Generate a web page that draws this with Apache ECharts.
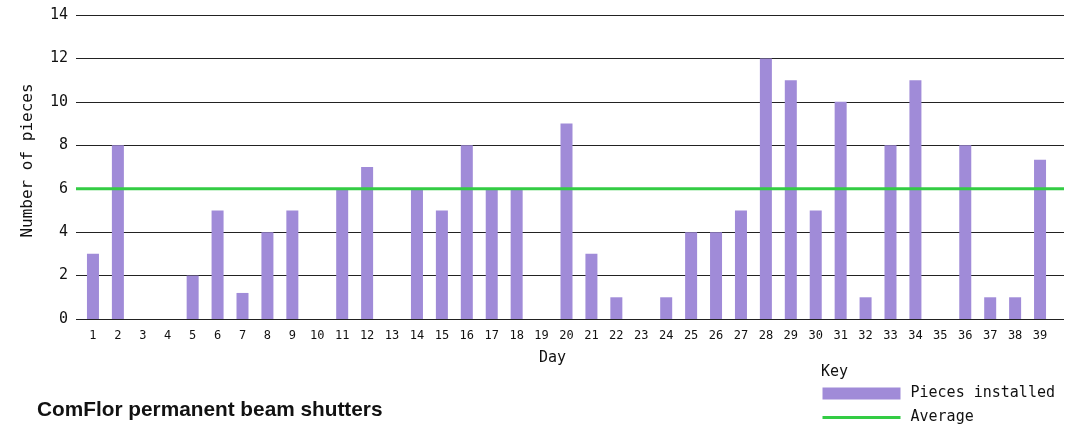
<!DOCTYPE html>
<html>
<head>
<meta charset="utf-8">
<script src="https://cdn.jsdelivr.net/npm/echarts@6/dist/echarts.min.js"></script>
<style>
  html, body { margin: 0; padding: 0; background: #fff; }
  #chart { width: 1082px; height: 425px; }
</style>
</head>
<body>
<div id="chart"></div>
<script>
// Daily installation counts for ComFlor permanent beam shutters
const days = ['1','2','3','4','5','6','7','8','9','10','11','12','13','14','15','16','17','18','19','20',
              '21','22','23','24','25','26','27','28','29','30','31','32','33','34','35','36','37','38','39'];
const piecesInstalled = [3, 8, 0, 0, 2, 5, 1.2, 4, 5, 0, 6, 7, 0, 6, 5, 8, 6, 6, 0, 9,
                         3, 1, 0, 1, 4, 4, 5, 12, 11, 5, 10, 1, 8, 11, 0, 8, 1, 1, 7.33];
const averagePieces = 6;
const yTicks = [0, 2, 4, 6, 8, 10, 12, 14];

const MONO = '"DejaVu Sans Mono", monospace';
const PURPLE = '#a08bd8';
const GREEN = '#33cc44';
const INK = '#111';

const chart = echarts.init(document.getElementById('chart'));

const plotTop = 15, plotBottom = 106;

chart.setOption({
  animation: false,
  backgroundColor: '#fff',
  title: [
    {
      text: 'ComFlor permanent beam shutters',
      left: 37, top: 400, padding: 0,
      textStyle: { fontFamily: '"Liberation Sans", Arial, sans-serif', fontWeight: 'bold', fontSize: 20.8, color: INK }
    },
    {
      text: 'Key',
      left: 821, top: 365, padding: 0,
      textStyle: { fontFamily: MONO, fontWeight: 'normal', fontSize: 15, color: INK }
    }
  ],
  legend: {
    orient: 'vertical',
    left: 821, top: 386, height: 60, padding: 0,
    itemWidth: 78, itemHeight: 12, itemGap: 9,
    textStyle: { fontFamily: MONO, fontSize: 15, color: INK, padding: [0, 0, 0, 5] },
    data: [
      { name: 'Pieces installed', icon: 'rect' },
      { name: 'Average', itemStyle: { opacity: 0 }, lineStyle: { color: GREEN, width: 3 } }
    ]
  },
  graphic: [
    {
      type: 'text', x: 539, y: 358.5,
      style: { text: 'Day', font: '15px ' + MONO, fill: INK, textVerticalAlign: 'middle' }
    },
    {
      type: 'text', x: 28, y: 160.5, rotation: Math.PI / 2,
      style: { text: 'Number of pieces', font: '16px ' + MONO, fill: INK, textAlign: 'center', textVerticalAlign: 'middle' }
    }
  ],
  grid: [
    // full-width frame carrying the gridlines and the average line
    { left: 76, right: 18, top: plotTop, bottom: plotBottom },
    // category band for the daily bars
    { left: 80.5, right: 29.5, top: plotTop, bottom: plotBottom }
  ],
  xAxis: [
    { type: 'value', gridIndex: 0, min: 0, max: 1, show: false },
    {
      type: 'category', gridIndex: 1, data: days,
      axisLine: { show: false }, axisTick: { show: false },
      axisLabel: { fontFamily: MONO, fontSize: 12, color: INK, margin: 11, interval: 0 }
    }
  ],
  yAxis: [
    {
      type: 'value', gridIndex: 0, min: 0, max: 14, interval: 2,
      axisLine: { show: false }, axisTick: { show: false },
      axisLabel: {
        fontFamily: MONO, fontSize: 15, color: INK, margin: 8,
        formatter: v => yTicks.includes(v) ? String(v) : ''
      },
      splitLine: { show: true, lineStyle: { color: '#222', width: 1 } }
    },
    { type: 'value', gridIndex: 1, min: 0, max: 14, interval: 2, show: false, splitLine: { show: false } }
  ],
  series: [
    {
      name: 'Pieces installed', type: 'bar',
      xAxisIndex: 1, yAxisIndex: 1,
      data: piecesInstalled, barWidth: 12,
      itemStyle: { color: PURPLE }, z: 3
    },
    {
      name: 'Average', type: 'line',
      xAxisIndex: 0, yAxisIndex: 0,
      data: [[0, averagePieces], [1, averagePieces]],
      symbol: 'none', lineStyle: { color: GREEN, width: 3 },
      itemStyle: { color: GREEN }, z: 5
    }
  ]
});
</script>
</body>
</html>
